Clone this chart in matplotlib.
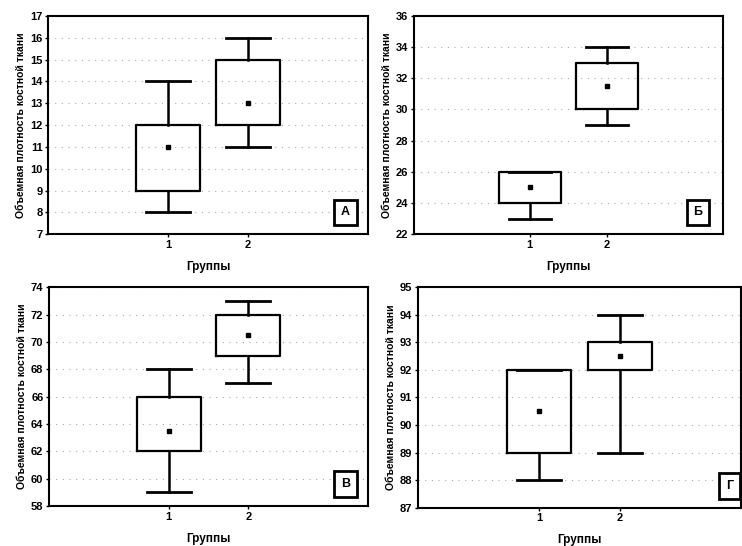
import matplotlib
matplotlib.use("Agg")
from matplotlib import pyplot as plt
import numpy as np

plt.rcParams['font.family'] = ['Liberation Sans', 'DejaVu Sans']

groups = [1, 2]
letters = ["А", "Б", "В", "Г"]

# point (mean), box low/high, whisker low/high per group
point_vals = [[11, 13], [25, 31.5], [63.5, 70.5], [90.5, 92.5]]
box_lo = [[9, 12], [24, 30], [62, 69], [89, 92]]
box_hi = [[12, 15], [26, 33], [66, 72], [92, 93]]
whisk_lo = [[8, 11], [23, 29], [59, 67], [88, 89]]
whisk_hi = [[14, 16], [26, 34], [68, 73], [92, 94]]

y_limits = [(7, 17), (22, 36), (58, 74), (87, 95)]
y_steps = [1, 2, 2, 1]

ylab = "Объемная плотность костной ткани"
xlab = "Группы"

positions = [
    [0.065, 0.571, 0.431, 0.400],
    [0.558, 0.571, 0.416, 0.400],
    [0.066, 0.073, 0.430, 0.401],
    [0.563, 0.070, 0.436, 0.404],
]
letter_x = [0.93, 0.92, 0.93, 0.965]

fig = plt.figure(figsize=(7.42, 5.46), dpi=100)

for i in range(4):
    ax = fig.add_axes(positions[i])
    stats = []
    for j in range(2):
        stats.append(dict(med=point_vals[i][j], mean=point_vals[i][j],
                          q1=box_lo[i][j], q3=box_hi[i][j],
                          whislo=whisk_lo[i][j], whishi=whisk_hi[i][j],
                          fliers=[]))
    ax.bxp(stats, positions=groups, widths=0.8, capwidths=0.55,
           showmeans=True, showfliers=False,
           boxprops=dict(color='black', linewidth=1.6),
           whiskerprops=dict(color='black', linewidth=1.8),
           capprops=dict(color='black', linewidth=2.0),
           medianprops=dict(linewidth=0),
           meanprops=dict(marker='s', markersize=3, markerfacecolor='black',
                          markeredgecolor='black'))
    ax.set_xlim(-0.5, 3.5)
    lo, hi = y_limits[i]
    ax.set_ylim(lo, hi)
    ax.set_yticks(np.arange(lo, hi + 0.1, y_steps[i]))
    ax.set_xticks(groups)
    ax.set_xticklabels([str(g) for g in groups])
    ax.yaxis.grid(True, linestyle=(0, (1, 5)), color='#aaaaaa', linewidth=0.8)
    ax.set_axisbelow(True)
    for sp in ax.spines.values():
        sp.set_linewidth(1.5)
    ax.tick_params(axis='both', length=2, width=1, labelsize=8, pad=2)
    for lab in ax.get_xticklabels() + ax.get_yticklabels():
        lab.set_fontweight('bold')
    ax.set_ylabel(ylab, fontsize=7.5, fontweight='bold', labelpad=3)
    ax.set_xlabel(xlab, fontsize=8.5, fontweight='bold', labelpad=8)
    ax.text(letter_x[i], 0.1, letters[i], transform=ax.transAxes, ha='center',
            va='center', fontsize=9, fontweight='bold',
            bbox=dict(boxstyle='square,pad=0.55', facecolor='white',
                      edgecolor='black', linewidth=2))

fig.savefig("out.png", dpi=100)
